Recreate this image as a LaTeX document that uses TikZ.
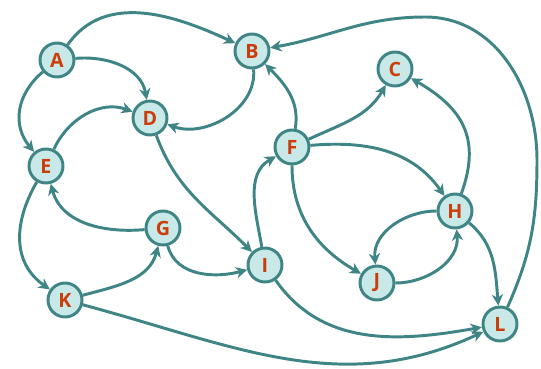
\documentclass[tikz,border=0pt]{standalone}
\usepackage{fontspec}
\setsansfont{Open Sans}
\usepackage{tikz}
\usepackage{xcolor}
\usetikzlibrary{arrows.meta}
\definecolor{edgecol}{HTML}{3F8585}
\definecolor{vtxfill}{HTML}{C9E8E8}
\definecolor{vtxtext}{HTML}{CC3D0C}

\begin{document}
\begin{tikzpicture}[x=0.025cm,y=-0.025cm,
  vtx/.style={circle,draw=edgecol,fill=vtxfill,line width=2.1pt,minimum size=0.85cm,inner sep=0pt,
    text=vtxtext,font=\sffamily\bfseries\fontsize{14}{16}\selectfont},
  edge/.style={draw=edgecol,line width=2.1pt,-{Stealth[length=8pt,width=8pt,inset=2.5pt]}}]
  \useasboundingbox (0,0) rectangle (541,369);
  \node[vtx] (A) at (57,60) {A}; \node[vtx] (B) at (252,51) {B}; \node[vtx] (C) at (395,69) {C};
  \node[vtx] (D) at (150,118) {D}; \node[vtx] (E) at (46,166) {E}; \node[vtx] (F) at (292,147) {F};
  \node[vtx] (G) at (163,228) {G}; \node[vtx] (H) at (455,211) {H}; \node[vtx] (I) at (265,265) {I};
  \node[vtx] (J) at (377,283) {J}; \node[vtx] (K) at (65,300) {K}; \node[vtx] (L) at (500,324) {L};
  \coordinate (LB1) at (537,160); \coordinate (LB2) at (425,17);
  \draw[edge] (A) to[out=55,in=155] (B);
  \draw[edge] (A) to[out=5,in=100] (D);
  \draw[edge] (A) to[out=-140,in=130,looseness=1.1] (E);
  \draw[edge] (E) to[out=65,in=160] (D);
  \draw[edge] (B) to[out=-85,in=-20] (D);
  \draw[edge] (D) to[out=-70,in=135] (I);
  \draw[edge] (G) to[out=185,in=-75] (E);
  \draw[edge] (E) to[out=-120,in=145,looseness=1.1] (K);
  \draw[edge] (K) to[out=15,in=-105] (G);
  \draw[edge] (G) to[out=-75,in=195] (I);
  \draw[edge] (K) to[out=-15,in=205] (L);
  \draw[edge] (I) to[out=100,in=210] (F);
  \draw[edge] (I) to[out=-55,in=190] (L);
  \draw[edge] (F) to[out=80,in=-45] (B);
  \draw[edge] (F) to[out=25,in=-120] (C);
  \draw[edge] (F) to[out=5,in=125] (H);
  \draw[edge] (F) to[out=-90,in=150] (J);
  \draw[edge] (H) to[out=70,in=-30,looseness=1.2] (C);
  \draw[edge] (H) to[out=180,in=95] (J);
  \draw[edge] (J) to[out=0,in=-85] (H);
  \draw[edge] (H) to[out=-40,in=95] (L);
  \draw[edge] (L) to[out=66,in=-90] (LB1) to[out=90,in=0] (LB2) to[out=180,in=10] (B);
\end{tikzpicture}
\end{document}
